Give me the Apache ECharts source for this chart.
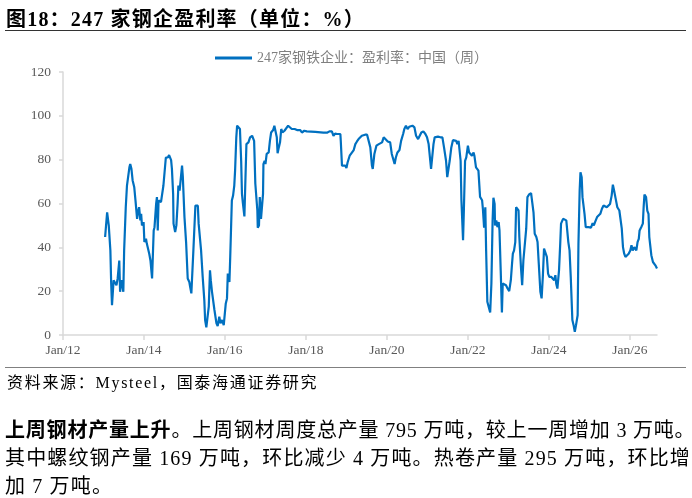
<!DOCTYPE html>
<html>
<head>
<meta charset="utf-8">
<script src="https://cdn.jsdelivr.net/npm/echarts@6/dist/echarts.min.js"></script>
<style>
  html, body { margin: 0; padding: 0; background: #fff; }
  #wrap { position: relative; width: 692px; height: 498px; overflow: hidden; }
  #chart { position: absolute; left: 0; top: 0; width: 692px; height: 498px; }
  .txt { position: absolute; white-space: nowrap; font-family: "Liberation Serif", "Noto Sans CJK SC", serif; color: #000; }
  #title { left: 6px; top: 3px; font-size: 20px; font-weight: bold; letter-spacing: 1.2px; }
  #rule1 { position: absolute; left: 5px; top: 30px; width: 681px; height: 0; border-top: 1.2px solid #333; }
  #rule2 { position: absolute; left: 5px; top: 367px; width: 681px; height: 0; border-top: 1.5px solid #808080; }
  #source { left: 7px; top: 369px; font-size: 16px; letter-spacing: 1.7px; }
  .para { left: 5px; font-size: 20px; }
</style>
</head>
<body>
<div id="wrap">
  <div id="chart"></div>
  <div id="title" class="txt">图18：247 家钢企盈利率（单位：%）</div>
  <div id="rule1"></div>
  <div id="rule2"></div>
  <div id="source" class="txt">资料来源：Mysteel，国泰海通证券研究</div>
  <div class="txt para" style="top:414px; letter-spacing:0.8px;"><b>上周钢材产量上升</b>。上周钢材周度总产量 795 万吨，较上一周增加 3 万吨。</div>
  <div class="txt para" style="top:442px; letter-spacing:1.15px;">其中螺纹钢产量 169 万吨，环比减少 4 万吨。热卷产量 295 万吨，环比增</div>
  <div class="txt para" style="top:470px; letter-spacing:1.15px;">加 7 万吨。</div>
</div>
<script>
// ---- data (decimal year, profitability %) ----
const seriesName = '247家钢铁企业：盈利率：中国（周）';
const xTickYears = [2012, 2014, 2016, 2018, 2020, 2022, 2024, 2026];
const yTicks = [0, 20, 40, 60, 80, 100, 120];
const years = [
 2013.04,2013.09,2013.13,2013.17,2013.19,2013.21,2013.23,2013.25,2013.29,2013.32,2013.35,2013.39,2013.41,2013.44,2013.46,2013.49,2013.51,2013.55,2013.58,2013.60,
 2013.64,2013.66,2013.69,2013.72,2013.76,2013.79,2013.83,2013.85,2013.88,2013.91,2013.93,2013.95,2013.99,2014.01,2014.05,2014.07,2014.10,2014.13,2014.16,2014.20,
 2014.24,2014.26,2014.30,2014.32,2014.34,2014.36,2014.39,2014.42,2014.46,2014.48,2014.51,2014.54,2014.59,2014.62,2014.67,2014.69,2014.72,2014.73,2014.77,2014.80,
 2014.83,2014.85,2014.88,2014.94,2014.96,2015.00,2015.04,2015.08,2015.12,2015.14,2015.17,2015.19,2015.22,2015.27,2015.31,2015.33,2015.35,2015.38,2015.41,2015.45,
 2015.49,2015.51,2015.54,2015.58,2015.60,2015.63,2015.65,2015.68,2015.70,2015.74,2015.76,2015.79,2015.82,2015.86,2015.89,2015.93,2015.97,2015.99,2016.02,2016.05,
 2016.07,2016.11,2016.13,2016.17,2016.20,2016.23,2016.25,2016.28,2016.30,2016.34,2016.37,2016.40,2016.42,2016.44,2016.48,2016.50,2016.53,2016.56,2016.58,2016.62,
 2016.67,2016.71,2016.72,2016.75,2016.77,2016.80,2016.81,2016.84,2016.86,2016.89,2016.91,2016.94,2016.95,2016.98,2017.00,2017.03,2017.08,2017.11,2017.14,2017.19,
 2017.22,2017.26,2017.28,2017.30,2017.33,2017.36,2017.39,2017.42,2017.47,2017.51,2017.56,2017.60,2017.65,2017.72,2017.78,2017.82,2017.86,2017.90,2017.96,2018.02,
 2018.23,2018.43,2018.52,2018.58,2018.64,2018.68,2018.72,2018.77,2018.85,2018.86,2018.89,2018.93,2018.97,2019.00,2019.03,2019.08,2019.12,2019.18,2019.22,2019.26,
 2019.30,2019.34,2019.38,2019.42,2019.46,2019.51,2019.55,2019.59,2019.63,2019.65,2019.69,2019.74,2019.77,2019.80,2019.83,2019.88,2019.92,2019.96,2020.02,2020.08,
 2020.12,2020.16,2020.19,2020.22,2020.26,2020.31,2020.35,2020.40,2020.43,2020.47,2020.51,2020.55,2020.59,2020.63,2020.68,2020.72,2020.77,2020.80,2020.85,2020.90,
 2020.95,2020.99,2021.03,2021.07,2021.09,2021.12,2021.15,2021.18,2021.22,2021.26,2021.32,2021.37,2021.41,2021.44,2021.46,2021.49,2021.51,2021.55,2021.59,2021.63,
 2021.67,2021.71,2021.74,2021.77,2021.79,2021.82,2021.84,2021.88,2021.90,2021.93,2021.96,2022.00,2022.03,2022.07,2022.10,2022.14,2022.16,2022.20,2022.24,2022.26,
 2022.30,2022.35,2022.37,2022.40,2022.43,2022.45,2022.48,2022.51,2022.55,2022.58,2022.61,2022.63,2022.66,2022.67,2022.70,2022.73,2022.76,2022.78,2022.81,2022.84,
 2022.86,2022.90,2022.94,2022.98,2023.02,2023.06,2023.09,2023.11,2023.14,2023.17,2023.19,2023.22,2023.25,2023.27,2023.31,2023.34,2023.37,2023.41,2023.44,2023.47,
 2023.51,2023.56,2023.59,2023.62,2023.65,2023.69,2023.72,2023.75,2023.79,2023.82,2023.85,2023.88,2023.92,2023.95,2023.98,2024.01,2024.06,2024.10,2024.13,2024.16,
 2024.18,2024.21,2024.25,2024.28,2024.30,2024.35,2024.39,2024.43,2024.46,2024.48,2024.51,2024.54,2024.58,2024.61,2024.64,2024.67,2024.71,2024.73,2024.76,2024.78,
 2024.81,2024.83,2024.85,2024.88,2024.91,2024.94,2024.98,2025.02,2025.04,2025.08,2025.11,2025.14,2025.19,2025.22,2025.27,2025.31,2025.35,2025.39,2025.43,2025.47,
 2025.51,2025.55,2025.58,2025.61,2025.65,2025.69,2025.74,2025.78,2025.80,2025.83,2025.86,2025.89,2025.93,2025.97,2026.01,2026.04,2026.07,2026.11,2026.16,2026.19,
 2026.22,2026.24,2026.28,2026.32,2026.34,2026.36,2026.40,2026.43,2026.46,2026.48,2026.53,2026.57,2026.60,2026.63,2026.65,2026.67
];
const values = [
 44.7,56.0,50,38.6,23.5,13.6,14.4,25,24.2,22.7,25.8,34,19.7,25,23.5,19.7,38.6,58.3,68.2,67.4,
 76.5,78,75.8,70.5,67.4,61.4,53,56,58.3,52.3,55.3,50,51.5,42.4,43.9,41.7,40.9,37.1,34,25.8,
 47.7,49.2,59.8,62.9,47.7,61.4,60.6,60.6,60.6,68.2,69,81,81,82.1,79.8,75.8,64.4,50.8,47,50,
 59.8,68.2,65.9,77.3,72,53.8,42.4,25.8,24.2,22,19,19.2,38.6,59.1,59.8,59,50.8,50,38.6,26.5,
 15.9,6.8,3.5,3.5,12.9,29.5,25,19.7,19,11.4,10.6,5.3,4.1,8.3,5.3,6.8,4.5,5.3,14.4,16.7,
 28,24.2,35.6,61.4,63.6,68.2,75,90.2,95.5,96.2,94,79.5,64.4,60.6,54.1,67.4,87.1,86.4,87.9,90.2,
 90.9,91.7,88.6,69,68.2,56.8,49,50,62.9,53,53,64.4,78,79.5,78,82.6,83.3,88.6,92.4,93.5,
 95.5,94.7,90.2,82.9,85.6,87.9,94,92.4,93.2,94,95.5,94.7,94,94,93.5,92.9,93.5,92.4,93.2,92.9,
 92.7,92.3,92.3,92.9,92.9,90.9,91.9,91.7,91.7,88.6,77.3,76.5,77.3,76.2,78.8,81.8,82.6,84.4,87.1,88.3,
 89.4,90.2,90.9,90.5,91.4,91.4,90.9,85.6,77.3,75.8,82.6,86.4,85.9,87.1,86.4,87.9,90.2,89.4,88.3,87.9,
 82.6,81.8,78,81,83.3,84.4,88.6,91.7,94,95.5,94,95,95.5,95.5,94.7,90.9,89.4,90.2,92.4,92.9,
 91.7,90.2,87.1,79.5,75.8,76.5,87.1,90.2,90.2,90.5,90.2,90.2,85.6,85.6,79.5,72,71.2,79.5,85.6,88.9,
 89.4,88.6,87.1,88.6,87.9,79.5,61.4,43.2,56.8,79.5,81,86.4,83.3,83.3,81.8,83.3,81.8,76.5,75.8,75,
 63,61.5,57.5,49,58.3,38.6,15.2,15.9,10.3,23.5,52.3,62.6,59.8,50,52.3,49.2,51.5,47.7,29.5,10.3,
 23.5,23.8,22.7,21.2,20,25,32.6,37.1,38.6,42.4,58.3,59.1,56.8,44.7,31,22.7,34,33.3,48.5,62.9,
 64.1,64.7,65.2,56,46.2,44.7,42.4,32.6,19.7,16.7,26.5,39.4,38.6,35.6,28,26.5,26.5,25.8,25,27.3,
 23.5,21.2,29.5,41.7,50.8,53,53.8,52.3,52.3,42.4,38.6,26.5,6.8,4.5,1.5,4.5,9,41.7,66,74.2,
 72,62.9,59.8,55.3,49.2,48.5,49.2,50,49,51,50,51.5,53.8,53.8,55.3,57.6,59.1,59.8,58.3,59.1,
 59.8,63.6,68.6,65.9,62.1,58.3,56.8,56.8,48.5,40.1,37.1,35.6,36.4,37.1,38.6,40.9,38.6,40.1,38.6,42.4,
 43.9,47.7,49.2,50.8,58.3,64.1,62.9,56.8,55.3,44.7,36.4,33.3,33.3,31.8,32.6,30.3
];

const data = years.map((y, i) => [y, values[i]]);
const FONT = '"Liberation Serif", "Noto Sans CJK SC", serif';

const chart = echarts.init(document.getElementById('chart'), null, { renderer: 'canvas' });
chart.setOption({
  animation: false,
  backgroundColor: 'transparent',
  grid: { left: 63, right: 35, top: 72, bottom: 163, containLabel: false },
  legend: {
    data: [{ name: seriesName, icon: 'rect' }],
    left: 210, top: 46,
    itemWidth: 37, itemHeight: 3, itemGap: 6,
    textStyle: { color: '#7f7f7f', fontSize: 14, fontFamily: FONT }
  },
  xAxis: {
    type: 'value', min: 2012, max: 2026.67, interval: 2,
    axisLine: { show: true, lineStyle: { color: '#d9d9d9', width: 1.5 } },
    axisTick: { show: true, length: 5, customValues: xTickYears, lineStyle: { color: '#d9d9d9', width: 1.5 } },
    splitLine: { show: false },
    axisLabel: {
      customValues: xTickYears, margin: 9, color: '#595959', fontSize: 13.5, fontFamily: FONT,
      formatter: v => 'Jan/' + String(Math.round(v)).slice(2)
    }
  },
  yAxis: {
    type: 'value', min: 0, max: 120, interval: 20,
    axisLine: { show: true, lineStyle: { color: '#d9d9d9', width: 1.5 } },
    axisTick: { show: true, length: 4, inside: false, lineStyle: { color: '#d9d9d9', width: 1.5 } },
    splitLine: { show: false },
    axisLabel: { customValues: yTicks, margin: 12, color: '#595959', fontSize: 13.5, fontFamily: FONT }
  },
  series: [{
    name: seriesName, type: 'line', data: data,
    showSymbol: false, symbol: 'none', smooth: false,
    lineStyle: { color: '#0070C0', width: 2.2 },
    itemStyle: { color: '#0070C0' }
  }]
});
</script>
</body>
</html>
